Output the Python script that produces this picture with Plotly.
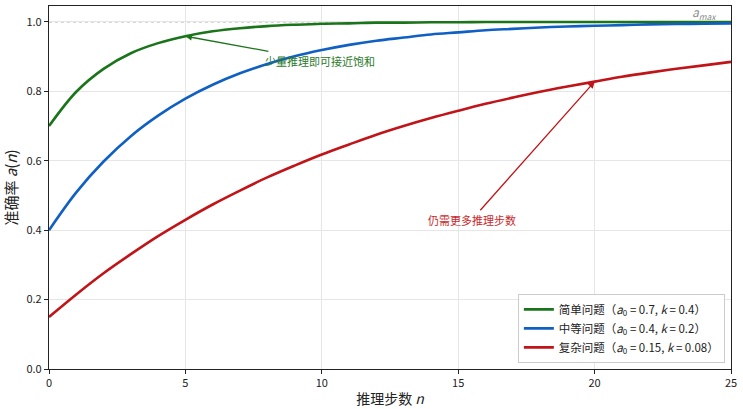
import plotly.graph_objects as go

n_steps = list(range(0, 26))
easy_acc = [0.700, 0.799, 0.865, 0.910, 0.939, 0.959, 0.973, 0.982, 0.988, 0.992,
            0.995, 0.996, 0.998, 0.998, 0.999, 0.999, 1.000, 1.000, 1.000, 1.000,
            1.000, 1.000, 1.000, 1.000, 1.000, 1.000]
medium_acc = [0.400, 0.509, 0.598, 0.671, 0.730, 0.779, 0.819, 0.852, 0.879, 0.901,
              0.919, 0.934, 0.946, 0.955, 0.964, 0.970, 0.976, 0.980, 0.984, 0.987,
              0.989, 0.991, 0.993, 0.994, 0.995, 0.996]
hard_acc = [0.150, 0.215, 0.276, 0.331, 0.383, 0.430, 0.474, 0.514, 0.552, 0.586,
            0.618, 0.647, 0.675, 0.700, 0.723, 0.744, 0.764, 0.782, 0.799, 0.814,
            0.828, 0.842, 0.854, 0.865, 0.875, 0.885]
series_names = ["简单问题（<i>a</i><sub>0</sub> = 0.7, <i>k</i> = 0.4）",
                "中等问题（<i>a</i><sub>0</sub> = 0.4, <i>k</i> = 0.2）",
                "复杂问题（<i>a</i><sub>0</sub> = 0.15, <i>k</i> = 0.08）"]
colors = ["#1a741a", "#1060c4", "#c01418"]
a_max = 1.0

FONT = "Noto Sans CJK SC"

fig = go.Figure()
for name, ys, c in zip(series_names, [easy_acc, medium_acc, hard_acc], colors):
    fig.add_trace(go.Scatter(x=n_steps, y=ys, mode="lines", name=name,
                             line=dict(color=c, width=2.6, shape="spline", smoothing=1.0)))

fig.add_hline(y=a_max, line=dict(color="#aaaaaa", width=1, dash="dot"), layer="below")

fig.add_annotation(x=25, y=a_max, xref="x", yref="y", text="<i>a</i><sub><i>max</i></sub>",
                   showarrow=False, xanchor="right", yanchor="bottom", xshift=-12, yshift=-2,
                   font=dict(family=FONT, size=12, color="#888888"))

fig.add_annotation(x=5, y=easy_acc[5], ax=9.95, ay=0.888, xref="x", yref="y",
                   axref="x", ayref="y", text="少量推理即可接近饱和",
                   showarrow=True, arrowhead=2, arrowsize=1, arrowwidth=1.3,
                   arrowcolor=colors[0], font=dict(family=FONT, size=11, color="#2a7a2a"))
fig.add_annotation(x=20, y=hard_acc[20], ax=15.5, ay=0.43, xref="x", yref="y",
                   axref="x", ayref="y", text="仍需更多推理步数",
                   showarrow=True, arrowhead=2, arrowsize=1, arrowwidth=1.3,
                   arrowcolor=colors[2], font=dict(family=FONT, size=11, color="#c8282c"))

axis_common = dict(showline=True, linecolor="#222222", linewidth=1.2, mirror=True,
                   ticks="outside", ticklen=4, tickcolor="#222222",
                   showgrid=True, gridcolor="#e6e6e6", gridwidth=1, zeroline=False,
                   tickfont=dict(family=FONT, size=11, color="#222222"))

fig.update_layout(
    width=743, height=409,
    margin=dict(l=49, r=12, t=5, b=39),
    plot_bgcolor="white", paper_bgcolor="white",
    font=dict(family=FONT, color="#222222"),
    xaxis=dict(range=[0, 25], tickvals=[0, 5, 10, 15, 20, 25],
               title=dict(text="推理步数 <i>n</i>", font=dict(family=FONT, size=14), standoff=4),
               **axis_common),
    yaxis=dict(range=[0, 1.046], tickvals=[0, 0.2, 0.4, 0.6, 0.8, 1.0],
               tickformat=".1f",
               title=dict(text="准确率 <i>a</i>(<i>n</i>)", font=dict(family=FONT, size=15), standoff=6),
               **axis_common),
    legend=dict(x=0.991, y=0.017, xanchor="right", yanchor="bottom",
                bgcolor="rgba(255,255,255,0.9)", bordercolor="#cccccc", borderwidth=1,
                font=dict(family=FONT, size=11.5, color="#222222"),
                tracegroupgap=0, itemwidth=30),
    showlegend=True,
)

fig.write_html("out.html", config={"displayModeBar": False},
               post_script="document.body.style.margin='0';document.body.style.overflow='hidden';")
